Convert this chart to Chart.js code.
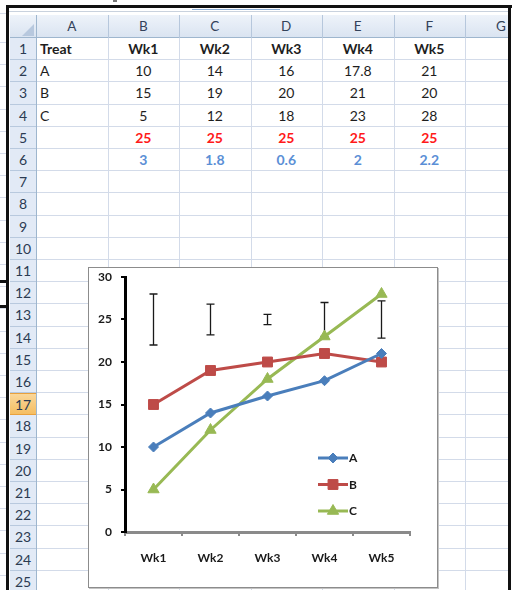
<!DOCTYPE html>
<html>
<head>
<meta charset="utf-8">
<script src="https://cdn.jsdelivr.net/npm/chart.js@4.4.1/dist/chart.umd.min.js"></script>
<style>
  html, body { margin: 0; padding: 0; background: #fff; }
  body { width: 515px; height: 590px; position: relative; overflow: hidden; font-family: Lato, "Open Sans", sans-serif; }
  .a { position: absolute; box-sizing: border-box; }
  #sheet { position: absolute; left: 9px; top: 8px; width: 499px; height: 582px; overflow: hidden; background: #fff; }
  #sheet .c { position: absolute; box-sizing: border-box; white-space: nowrap; }
  #chartBox { position: absolute; left: 88px; top: 267px; width: 350px; height: 321px; border: 1px solid #8c8c8c; background: #fff; box-shadow: 1px 1px 0 #c4c4c4; box-sizing: border-box; }
  #chart { position: absolute; left: 89px; top: 268px; }
</style>
</head>
<body>
<div id="outside"></div>
<div id="sheet"></div>
<div class="a" style="left:6px;top:5px;width:3px;height:590px;background:#111"></div>
<div class="a" style="left:6px;top:5px;width:506px;height:3px;background:#111"></div>
<div class="a" style="left:508px;top:5px;width:3px;height:590px;background:#111"></div>
<div id="chartBox"></div>
<canvas id="chart" width="348" height="319"></canvas>
<script>
// ---- data ----
const weeks = ['Wk1', 'Wk2', 'Wk3', 'Wk4', 'Wk5'];
const treatNames = ['A', 'B', 'C'];
const seriesA = [10, 14, 16, 17.8, 21];
const seriesB = [15, 19, 20, 21, 20];
const seriesC = [5, 12, 18, 23, 28];
const barMid = [25, 25, 25, 25, 25];
const barErr = [3, 1.8, 0.6, 2, 2.2];
const yTicks = [0, 5, 10, 15, 20, 25, 30];
const colLetters = ['A', 'B', 'C', 'D', 'E', 'F', 'G'];

// ---- worksheet backdrop ----
const sheet = document.getElementById('sheet');
const OX = 9, OY = 8;
function cell(x, y, w, h, css, text) {
  const d = document.createElement('div');
  d.className = 'c';
  d.style.cssText = `left:${x - OX}px;top:${y - OY}px;width:${w}px;height:${h}px;${css || ''}`;
  if (text !== undefined) d.textContent = text;
  sheet.appendChild(d);
  return d;
}
const colEdges = [36, 107.5, 179, 250.5, 322, 393.5, 465, 537];
const ROW_H = 22.2;
const rowTop = r => 38 + (r - 1) * ROW_H;
const NROWS = 25;

// formula strip above the headers
cell(9, 11, 500, 1, 'background:#c9d2de');
cell(192, 9, 88, 1, 'background:#8fb0d8');

// column header band
cell(10, 15, 499, 23, 'background:linear-gradient(#eef3fa,#dae4f1);border-bottom:1px solid #9eb6ce');
// corner cell triangle
cell(22, 24, 0, 0, 'border-left:12px solid transparent;border-bottom:12px solid #b7c8de');
for (let i = 0; i < colLetters.length; i++) {
  const x0 = colEdges[i], x1 = colEdges[i + 1];
  cell(x0, 15, 1, 23, 'background:#b6c7dc');
  cell(x0, 15, x1 - x0, 23, 'line-height:23px;text-align:center;font-size:13.5px;color:#33425a', colLetters[i]);
}

// gridlines
for (let r = 1; r <= NROWS + 1; r++) {
  cell(36, rowTop(r + 1) - 1, 501, 1, 'background:#d3dbe9');
}
for (let i = 1; i < colEdges.length; i++) {
  cell(colEdges[i], 38, 1, 560, 'background:#d3dbe9');
}

// row headers
for (let r = 1; r <= NROWS; r++) {
  const sel = r === 17;
  const bg = sel ? 'linear-gradient(#fad79a,#f5be62)' : '#e2eaf6';
  const bd = sel ? '#e9a13d' : '#b8c9de';
  cell(10, rowTop(r), 26, ROW_H, `background:${bg};border-bottom:1px solid ${bd};${sel ? 'border-top:1px solid ' + bd + ';' : ''}line-height:${ROW_H}px;text-align:center;font-size:14px;color:#2b3b52`, String(r));
}
cell(36, 15, 1, 580, 'background:#9eb6ce');

// cell contents
function putText(r, c, text, css) {
  const x0 = colEdges[c], x1 = colEdges[c + 1];
  const align = c === 0 ? 'left;padding-left:4px' : 'center';
  cell(x0, rowTop(r), x1 - x0, ROW_H, `line-height:${ROW_H}px;font-size:14px;text-align:${align};color:#1e1e1e;${css || ''}`, text);
}
putText(1, 0, 'Treat', 'font-weight:bold');
weeks.forEach((w, i) => putText(1, i + 1, w, 'font-weight:bold'));
[seriesA, seriesB, seriesC].forEach((s, k) => {
  putText(k + 2, 0, treatNames[k]);
  s.forEach((v, i) => putText(k + 2, i + 1, String(v)));
});
barMid.forEach((v, i) => putText(5, i + 1, String(v), 'font-weight:bold;color:#ff1a1a'));
barErr.forEach((v, i) => putText(6, i + 1, String(v), 'font-weight:bold;color:#5b8fd6'));

// margin left of the frame
const outside = document.getElementById('outside');
function oBox(x, y, w, h, bg) {
  const d = document.createElement('div');
  d.className = 'a';
  d.style.cssText = `left:${x}px;top:${y}px;width:${w}px;height:${h}px;background:${bg}`;
  outside.appendChild(d);
}
oBox(0, 13, 6, 1, '#d6dcea');
for (let r = 1; r <= NROWS; r++) oBox(0, Math.round(rowTop(r) + 4), 6, 1, '#d6dcea');
oBox(0, 280, 8, 3, '#111');
oBox(0, 305, 8, 3, '#111');
oBox(113, 0, 4, 2, '#777');

// ---- chart ----
const FONT = { family: 'Lato, "Open Sans", sans-serif', size: 12, weight: 'bold' };
const styles = [
  { color: '#4a7ebb', point: 'rectRot', radius: 5 },
  { color: '#be4b48', point: 'rect', radius: 7 },
  { color: '#98b954', point: 'triangle', radius: 6.5 }
];

const errorBars = {
  id: 'errorBars',
  beforeDatasetsDraw(chart) {
    const { ctx, scales: { x, y } } = chart;
    ctx.save();
    ctx.strokeStyle = '#1a1a1a';
    ctx.lineWidth = 1.3;
    barMid.forEach((m, i) => {
      const px = x.getPixelForValue(i);
      const top = y.getPixelForValue(m + barErr[i]);
      const bot = y.getPixelForValue(m - barErr[i]);
      ctx.beginPath();
      ctx.moveTo(px, top); ctx.lineTo(px, bot);
      ctx.moveTo(px - 4, top); ctx.lineTo(px + 4, top);
      ctx.moveTo(px - 4, bot); ctx.lineTo(px + 4, bot);
      ctx.stroke();
    });
    ctx.restore();
  }
};

const insideLegend = {
  id: 'insideLegend',
  afterDatasetsDraw(chart) {
    const { ctx, chartArea } = chart;
    const x0 = chartArea.right - 92;
    const y0 = chartArea.bottom - 74;
    ctx.save();
    treatNames.forEach((name, k) => {
      const st = styles[k];
      const y = y0 + k * 26.5;
      ctx.strokeStyle = st.color;
      ctx.lineWidth = 3;
      ctx.beginPath();
      ctx.moveTo(x0, y); ctx.lineTo(x0 + 30, y);
      ctx.stroke();
      ctx.fillStyle = st.color;
      ctx.strokeStyle = st.color;
      ctx.lineWidth = 1;
      Chart.helpers.drawPoint(ctx, { pointStyle: st.point, radius: st.radius, rotation: 0, borderWidth: 1 }, x0 + 15, y);
      ctx.fillStyle = '#1a1a1a';
      ctx.font = `bold 12px ${FONT.family}`;
      ctx.textBaseline = 'middle';
      ctx.textAlign = 'left';
      ctx.fillText(name, x0 + 31, y + 0.5);
    });
    ctx.restore();
  }
};

const lineSet = (label, data, st) => ({
  label, data,
  borderColor: st.color,
  backgroundColor: st.color,
  pointBackgroundColor: st.color,
  pointBorderColor: st.color,
  borderWidth: 3,
  pointStyle: st.point,
  pointRadius: st.radius,
  pointBorderWidth: 1,
  tension: 0,
  fill: false
});

new Chart(document.getElementById('chart'), {
  type: 'line',
  data: {
    labels: weeks,
    datasets: [
      lineSet(treatNames[0], seriesA, styles[0]),
      lineSet(treatNames[1], seriesB, styles[1]),
      lineSet(treatNames[2], seriesC, styles[2])
    ]
  },
  options: {
    responsive: false,
    animation: false,
    events: [],
    layout: { padding: { left: 0, top: 9, right: 27, bottom: 0 } },
    plugins: { legend: { display: false }, tooltip: { enabled: false } },
    scales: {
      x: {
        type: 'category',
        offset: true,
        grid: { offset: true, drawOnChartArea: false, drawTicks: true, tickLength: 4, color: '#8a8a8a', lineWidth: 2 },
        border: { display: true, color: '#8a8a8a', width: 3 },
        ticks: { color: '#1a1a1a', font: FONT, padding: 15, maxRotation: 0 },
        afterFit(s) { s.height = 55; }
      },
      y: {
        min: 0, max: 30,
        afterBuildTicks(s) { s.ticks = yTicks.map(v => ({ value: v })); },
        grid: { drawOnChartArea: false, drawTicks: true, tickLength: 4, color: '#000', lineWidth: 2 },
        border: { display: true, color: '#000', width: 3 },
        ticks: { color: '#1a1a1a', font: FONT, padding: 9 },
        afterFit(s) { s.width = 36; s.paddingTop = 0; s.paddingBottom = 0; }
      }
    }
  },
  plugins: [errorBars, insideLegend]
});
</script>
</body>
</html>
